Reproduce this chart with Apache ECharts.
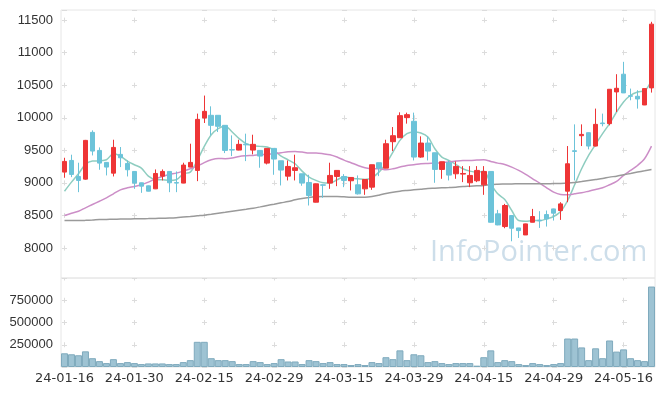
<!DOCTYPE html>
<html><head><meta charset="utf-8">
<script src="https://cdn.jsdelivr.net/npm/echarts@6/dist/echarts.min.js"></script>
<style>html,body{margin:0;padding:0;background:#fff}#c{width:665px;height:396px}</style>
</head><body><div id="c"></div>
<script>
const dates = ['24-01-16','24-01-17','24-01-18','24-01-19','24-01-22','24-01-23','24-01-24','24-01-25','24-01-26','24-01-29',
'24-01-30','24-01-31','24-02-01','24-02-02','24-02-05','24-02-06','24-02-07','24-02-08','24-02-13','24-02-14',
'24-02-15','24-02-16','24-02-19','24-02-20','24-02-21','24-02-22','24-02-23','24-02-26','24-02-27','24-02-28',
'24-02-29','24-03-04','24-03-05','24-03-06','24-03-07','24-03-08','24-03-11','24-03-12','24-03-13','24-03-14',
'24-03-15','24-03-18','24-03-19','24-03-20','24-03-21','24-03-22','24-03-25','24-03-26','24-03-27','24-03-28',
'24-03-29','24-04-01','24-04-02','24-04-03','24-04-04','24-04-05','24-04-08','24-04-09','24-04-11','24-04-12',
'24-04-15','24-04-16','24-04-17','24-04-18','24-04-19','24-04-22','24-04-23','24-04-24','24-04-25','24-04-26',
'24-04-29','24-04-30','24-05-02','24-05-03','24-05-07','24-05-08','24-05-09','24-05-10','24-05-13','24-05-14',
'24-05-16','24-05-17','24-05-20','24-05-21','24-05-22'];

const openP = [9166,9345,9099,9058,9776,9499,9315,9150,9438,9299,
9176,9002,8955,8909,9104,9176,9005,8997,9243,9192,
9997,10038,10038,9884,9510,9504,9595,9504,9499,9304,
9530,9340,9104,9192,9140,9007,8704,8970,8997,9099,
9099,9033,8971,8909,8935,9310,9227,9633,9694,10002,
9946,9397,9612,9463,9207,9310,9140,9135,9002,9033,
8971,9176,8525,8330,8499,8309,8201,8396,8427,8514,
8601,8576,8873,9494,9725,9771,9566,9920,9910,10397,
10669,10340,10330,10197,10459];
const closeP = [9330,9130,9038,9653,9489,9304,9243,9545,9386,9202,
8997,8950,8873,9145,9176,9002,8997,9274,9315,9976,
10099,9884,9869,9499,9505,9592,9585,9592,9412,9530,
9366,9197,9253,9233,8997,8807,8986,8965,9115,9192,
9038,9084,8832,9053,9279,9227,9602,9725,10033,10048,
9397,9612,9489,9207,9325,9120,9253,9145,9115,9192,
9176,8396,8355,8653,8304,8268,8371,8484,8417,8448,
8535,8678,9294,9484,9745,9566,9899,9910,10438,10453,
10382,10330,10289,10448,11438];
const lowP = [9079,9089,8858,9050,9422,9202,9115,9099,9243,9099,
8909,8848,8870,8905,9038,8858,8858,8995,9240,9027,
9920,9730,9781,9458,9412,9500,9335,9438,9233,9284,
9125,8961,9038,9038,8956,8653,8700,8771,8909,8950,
8935,8884,8822,8817,8894,9104,9225,9489,9690,9910,
9345,9386,9345,9002,9063,9038,9063,9012,8935,9012,
8817,8390,8350,8304,8104,8155,8200,8395,8309,8330,
8422,8432,8704,9038,9566,9515,9560,9869,9884,10089,
10380,10269,10141,10195,10387];
const highP = [9386,9433,9310,9660,9807,9545,9320,9663,9551,9345,
9180,9005,8960,9207,9207,9180,9176,9310,9602,10064,
10341,10176,10040,9884,9730,9663,9756,9740,9500,9532,
9532,9340,9345,9433,9140,9125,8990,8975,9310,9195,
9135,9088,9115,9055,9280,9312,9663,9858,10084,10079,
10079,9715,9715,9465,9327,9345,9330,9258,9258,9258,
9258,9180,8586,8678,8500,8310,8375,8601,8566,8576,
8605,8704,9566,9899,9899,9775,10141,10064,10440,10669,
10859,10448,10423,10450,11474];

const ma5 = [8873,9012,9140,9284,9335,9340,9355,9448,9412,9335,
9279,9227,9104,9053,9048,9038,9048,9140,9166,9345,
9560,9740,9833,9869,9781,9679,9602,9571,9561,9551,
9499,9412,9355,9294,9181,9089,9038,9002,8997,9048,
9094,9073,9063,9053,9079,9166,9294,9474,9653,9756,
9781,9766,9704,9525,9397,9345,9284,9217,9181,9166,
9178,8986,8832,8745,8576,8422,8412,8422,8422,8448,
8484,8560,8730,8971,9217,9422,9592,9756,9910,10089,
10243,10346,10397,10412,10577];
const ma20 = [8499,8535,8566,8617,8668,8719,8771,8832,8894,8925,
8945,8971,9012,9063,9099,9130,9150,9181,9217,9258,
9312,9355,9376,9371,9381,9407,9417,9422,9433,9438,
9448,9463,9479,9484,9474,9458,9458,9448,9433,9397,
9350,9310,9268,9233,9217,9217,9202,9217,9243,9268,
9279,9294,9299,9304,9310,9320,9335,9345,9345,9350,
9355,9330,9304,9284,9243,9192,9130,9063,8997,8925,
8858,8822,8817,8832,8848,8873,8899,8925,8971,9022,
9115,9192,9268,9371,9566];
const ma60 = [8422,8422,8422,8425,8430,8437,8440,8442,8444,8446,
8448,8450,8452,8455,8458,8460,8465,8475,8484,8495,
8505,8519,8535,8550,8566,8581,8596,8612,8632,8653,
8673,8694,8714,8740,8761,8776,8786,8791,8791,8791,
8786,8781,8781,8781,8791,8812,8837,8858,8873,8884,
8894,8904,8914,8919,8925,8930,8935,8945,8950,8955,
8960,8976,8981,8983,8985,8986,8986,8986,8986,8988,
8990,8992,8997,9007,9022,9038,9053,9068,9089,9104,
9125,9145,9166,9186,9207];

const volume = [154000,143000,132000,176000,99000,66000,44000,88000,44000,55000,
44000,33000,40000,40000,40000,33000,33000,55000,77000,283000,
283000,99000,77000,77000,66000,33000,33000,66000,55000,33000,
44000,88000,62000,62000,33000,77000,66000,44000,55000,33000,
33000,22000,33000,22000,55000,44000,110000,88000,187000,77000,
143000,132000,55000,66000,44000,33000,44000,44000,44000,15000,
110000,187000,55000,77000,66000,33000,22000,44000,33000,22000,
33000,44000,320000,320000,220000,77000,210000,99000,298000,173000,
198000,99000,77000,66000,904000];

const priceTicksShown = [8000,8500,9000,9500,10000,10500,11000,11500];
const volTicksShown = [250000,500000,750000];

const candleData = dates.map((d,i)=>[openP[i],closeP[i],lowP[i],highP[i]]);

const FONT = "'Liberation Sans', Arial, sans-serif";
const DATE_FONT = "'DejaVu Sans', sans-serif";
const GRID_COLOR = '#dcdcdc';
const pMin = 7540, pMax = 11655;
const mainH = 268, volH = 89;
const pStep = 500/(pMax-pMin)*mainH;
const pFirst = (pMax-11500)/(pMax-pMin)*mainH;
const vStep = 250000/1000000*volH;

const chart = echarts.init(document.getElementById('c'), null, {renderer:'canvas'});
chart.setOption({
  animation:false,
  backgroundColor:'#fff',
  grid:[
    {left:61, top:10, width:594, height:mainH, show:true, borderColor:'#e6e6e6', borderWidth:1},
    {left:61, top:278, width:594, height:volH, show:true, borderColor:'#e6e6e6', borderWidth:1}
  ],
  xAxis:[
    {type:'category', gridIndex:0, data:dates, boundaryGap:true,
     axisLine:{show:false}, axisTick:{show:false}, axisLabel:{show:false},
     splitLine:{show:true, interval:9, alignWithLabel:true,
       lineStyle:{color:GRID_COLOR, width:1, type:[5, pStep-5], dashOffset: pStep-(pFirst-2.5)}}},
    {type:'category', gridIndex:1, data:dates, boundaryGap:true,
     axisLine:{show:false}, axisTick:{show:false},
     axisLabel:{interval:9, color:'#333', fontSize:13, fontFamily:DATE_FONT, margin:5},
     splitLine:{show:true, interval:9, alignWithLabel:true,
       lineStyle:{color:GRID_COLOR, width:1, type:[5, vStep-5], dashOffset: 2.5}}}
  ],
  yAxis:[
    {type:'value', gridIndex:0, min:pMin, max:pMax, splitNumber:8, scale:true,
     axisLine:{show:false}, axisTick:{show:false},
     axisLabel:{color:'#333', fontSize:13, fontFamily:FONT, margin:8,
       showMinLabel:false, showMaxLabel:false,
       formatter:v=>priceTicksShown.includes(v)?String(v):''},
     splitLine:{show:true, lineStyle:{color:GRID_COLOR, width:1, type:[5,65], dashOffset:69}}},
    {type:'value', gridIndex:1, min:0, max:1000000, interval:250000,
     axisLine:{show:false}, axisTick:{show:false},
     axisLabel:{color:'#333', fontSize:13, fontFamily:FONT, margin:8,
       formatter:v=>volTicksShown.includes(v)?String(v):''},
     splitLine:{show:true, lineStyle:{color:GRID_COLOR, width:1, type:[5,65], dashOffset:69}}}
  ],
  graphic:[
    {type:'text', left:430, top:238.5, z:0, silent:true,
     style:{text:'InfoPointer.com', fill:'#cddeea', fontSize:29, fontFamily:"'Open Sans', 'Noto Sans', sans-serif"}}
  ],
  series:[
    {type:'candlestick', xAxisIndex:0, yAxisIndex:0, data:candleData, barWidth:5, z:5,
     itemStyle:{color:'#ee3536', color0:'#6cc3d9', borderColor:'#ee3536', borderColor0:'#6cc3d9', borderWidth:1}},
    {type:'line', xAxisIndex:0, yAxisIndex:0, data:ma5, symbol:'none', smooth:0.3, z:4,
     lineStyle:{color:'#8fcdc0', width:1.5}},
    {type:'line', xAxisIndex:0, yAxisIndex:0, data:ma20, symbol:'none', smooth:0.3, z:4,
     lineStyle:{color:'#cc8ec7', width:1.5}},
    {type:'line', xAxisIndex:0, yAxisIndex:0, data:ma60, symbol:'none', smooth:0.3, z:4,
     lineStyle:{color:'#9a9a9a', width:1.5}},
    {type:'bar', xAxisIndex:1, yAxisIndex:1, data:volume, barCategoryGap:'0%',
     itemStyle:{color:'#9ec3d3', borderColor:'#7faabd', borderWidth:1}}
  ]
});
</script></body></html>
